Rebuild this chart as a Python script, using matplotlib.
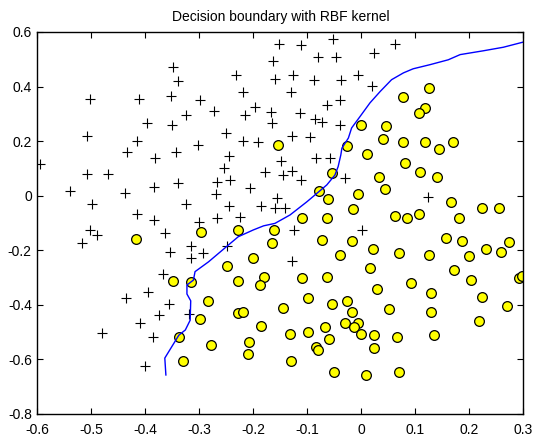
import matplotlib
matplotlib.use("Agg")
import matplotlib.pyplot as plt
import numpy as np

plt.rcParams["font.family"] = ["Liberation Sans", "DejaVu Sans"]
plt.rcParams["axes.unicode_minus"] = False

# positive examples (y = 1), drawn as '+'
posX = [-0.348, -0.339, -0.502, -0.412, -0.353, -0.299, -0.397, -0.325, -0.351, -0.509,
        -0.416, -0.302, -0.434, -0.343, -0.382, -0.152, -0.112, -0.052, -0.080, -0.047,
        -0.163, -0.232, -0.160, -0.126, -0.087, -0.038, -0.006, -0.220, -0.130, -0.272,
        -0.197, -0.215, -0.167, -0.166, -0.114, -0.064, -0.039, -0.086, -0.073, -0.039,
        -0.251, -0.219, -0.191, -0.129, -0.095, -0.246, -0.084, -0.058, 0.062, 0.024,
        0.019, -0.595, -0.509, -0.470, -0.539, -0.438, -0.384, -0.339, -0.499, -0.415,
        -0.384, -0.325, -0.502, -0.490, -0.518, -0.364, -0.354, -0.316, -0.316, -0.368,
        -0.301, -0.149, -0.254, -0.178, -0.146, -0.129, -0.112, -0.244, -0.268, -0.270,
        -0.206, -0.030, -0.157, -0.246, -0.186, -0.160, -0.141, -0.268, -0.225, -0.124,
        0.001, -0.249, -0.293, -0.129, 0.123, -0.396, -0.436, -0.356, -0.375, -0.320,
        -0.410, -0.480, -0.385, -0.401]
posY = [0.472, 0.419, 0.354, 0.354, 0.364, 0.352, 0.266, 0.294, 0.260, 0.220,
        0.201, 0.185, 0.159, 0.159, 0.138, 0.556, 0.551, 0.574, 0.507, 0.507,
        0.493, 0.441, 0.428, 0.443, 0.425, 0.425, 0.443, 0.380, 0.380, 0.309,
        0.325, 0.294, 0.307, 0.266, 0.303, 0.331, 0.352, 0.282, 0.270, 0.258,
        0.229, 0.201, 0.196, 0.220, 0.215, 0.146, 0.139, 0.139, 0.556, 0.523,
        0.403, 0.115, 0.078, 0.078, 0.017, 0.008, 0.033, 0.045, -0.032, -0.069,
        -0.090, -0.032, -0.126, -0.145, -0.173, -0.138, -0.208, -0.184, -0.230, -0.289,
        -0.096, 0.128, 0.100, 0.088, 0.075, 0.090, 0.057, 0.057, 0.049, 0.005,
        0.029, 0.066, -0.008, -0.037, -0.037, -0.045, -0.047, -0.081, -0.078, -0.126,
        -0.126, -0.184, -0.210, -0.240, -0.004, -0.353, -0.377, -0.398, -0.438, -0.434,
        -0.466, -0.505, -0.518, -0.625]

# negative examples (y = 0), drawn as yellow circles
negX = [-0.154, -0.027, -0.001, 0.125, 0.078, 0.118, 0.107, 0.045, 0.041, 0.077,
        0.118, 0.143, 0.169, 0.010, -0.417, -0.348, -0.315, -0.297, -0.055, -0.078,
        -0.062, -0.006, -0.015, -0.109, -0.064, -0.229, -0.162, -0.166, -0.072, -0.017,
        -0.201, -0.249, -0.039, -0.180, -0.109, -0.064, -0.229, -0.187, 0.081, 0.109,
        0.141, 0.033, 0.043, 0.166, 0.224, 0.255, 0.062, 0.085, 0.107, 0.181,
        0.157, 0.186, 0.274, 0.021, 0.070, 0.126, 0.200, 0.231, 0.259, 0.016,
        0.172, 0.292, 0.297, 0.204, 0.092, -0.299, -0.338, -0.331, -0.284, -0.146,
        -0.099, -0.055, -0.026, -0.017, -0.229, -0.220, -0.186, -0.133, -0.099, -0.067,
        -0.031, -0.007, -0.013, -0.001, -0.059, -0.278, -0.208, -0.210, -0.084, -0.081,
        -0.131, -0.050, 0.008, 0.029, 0.129, 0.224, 0.269, 0.051, 0.129, 0.217,
        0.024, 0.066, 0.135, 0.024, 0.070]
negY = [0.187, 0.183, 0.260, 0.395, 0.360, 0.321, 0.303, 0.256, 0.209, 0.195,
        0.195, 0.171, 0.195, 0.154, -0.159, -0.312, -0.317, -0.134, 0.082, 0.018,
        -0.014, 0.006, -0.050, -0.083, -0.083, -0.126, -0.126, -0.175, -0.163, -0.167,
        -0.228, -0.257, -0.218, -0.298, -0.302, -0.297, -0.315, -0.329, 0.121, 0.088,
        0.067, 0.067, 0.023, -0.023, -0.047, -0.047, -0.074, -0.083, -0.069, -0.083,
        -0.155, -0.167, -0.171, -0.196, -0.212, -0.219, -0.222, -0.196, -0.208, -0.265,
        -0.273, -0.301, -0.294, -0.310, -0.321, -0.454, -0.520, -0.606, -0.386, -0.414,
        -0.377, -0.398, -0.386, -0.426, -0.430, -0.426, -0.479, -0.508, -0.499, -0.483,
        -0.466, -0.466, -0.483, -0.508, -0.527, -0.548, -0.536, -0.581, -0.554, -0.567,
        -0.606, -0.646, -0.658, -0.344, -0.359, -0.371, -0.405, -0.417, -0.428, -0.459,
        -0.512, -0.520, -0.512, -0.560, -0.646]

# SVM decision boundary (0.5 contour of the RBF model)
boundX = [-0.362, -0.364, -0.351, -0.338, -0.326, -0.317, -0.316, -0.323, -0.323, -0.311,
          -0.308, -0.283, -0.246, -0.228, -0.200, -0.181, -0.160, -0.132, -0.101, -0.086,
          -0.064, -0.049, -0.043, -0.038, -0.036, -0.024, -0.018, -0.002, 0.016, 0.035,
          0.056, 0.078, 0.096, 0.127, 0.161, 0.183, 0.226, 0.263, 0.300]
boundY = [-0.658, -0.596, -0.554, -0.512, -0.493, -0.457, -0.386, -0.361, -0.328, -0.310,
          -0.279, -0.243, -0.181, -0.151, -0.126, -0.111, -0.102, -0.071, -0.023, 0.002,
          0.039, 0.075, 0.106, 0.149, 0.174, 0.211, 0.248, 0.291, 0.340, 0.382,
          0.425, 0.450, 0.465, 0.480, 0.498, 0.517, 0.531, 0.544, 0.563]

fig = plt.figure(figsize=(5.34, 4.38), dpi=100)
ax = fig.add_axes([0.07, 0.0555, 0.91, 0.8715])

ax.plot(posX, posY, "k+", markersize=7, markeredgewidth=0.8)
ax.plot(negX, negY, "o", markerfacecolor="yellow", markeredgecolor="black",
        markersize=7, markeredgewidth=0.9)
ax.plot(boundX, boundY, color="blue", lw=1)

ax.set_xlim(-0.6, 0.3)
ax.set_ylim(-0.8, 0.6)
ax.set_xticks(np.arange(-0.6, 0.31, 0.1))
ax.set_yticks(np.arange(-0.8, 0.61, 0.2))
ax.set_xticklabels(["-0.6", "-0.5", "-0.4", "-0.3", "-0.2", "-0.1", "0", "0.1", "0.2", "0.3"])
ax.set_yticklabels(["-0.8", "-0.6", "-0.4", "-0.2", "0", "0.2", "0.4", "0.6"])
ax.tick_params(direction="in", top=True, right=True, labelsize=10, length=4, width=0.8)
ax.tick_params(axis="x", pad=7)
ax.tick_params(axis="y", pad=4)
for s in ax.spines.values():
    s.set_linewidth(1.0)
ax.set_title("Decision boundary with RBF kernel", fontsize=10, pad=8)

fig.savefig("out.png", dpi=100)
